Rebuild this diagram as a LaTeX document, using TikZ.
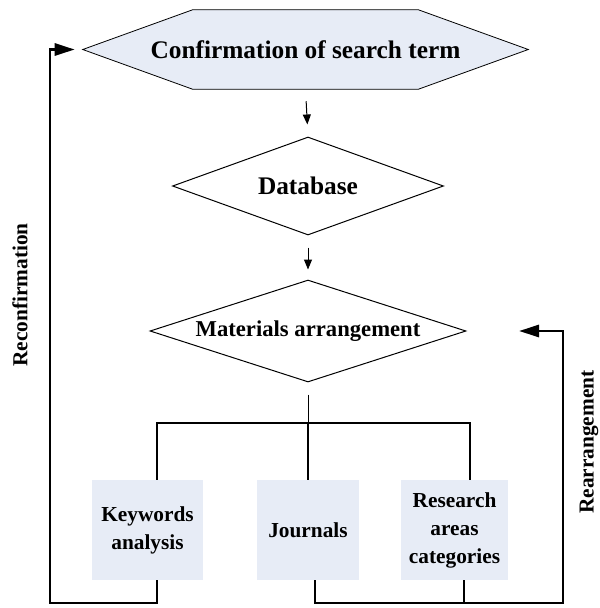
\documentclass[tikz,border=0pt]{standalone}
\usepackage{fontspec}
\setmainfont{Liberation Serif}
\usetikzlibrary{shapes.geometric,arrows.meta,backgrounds}
\definecolor{paleblue}{RGB}{231,236,246}
\tikzset{
  hexnode/.style={inner sep=0pt,minimum width=333.75pt,minimum height=59.25pt,
    font=\bfseries\fontsize{19}{22}\selectfont},
  decision/.style={diamond,draw,line width=0.75pt,inner sep=0pt,
    font=\bfseries\fontsize{19}{22}\selectfont},
  itembox/.style={fill=paleblue,inner sep=0pt,align=center,minimum height=75pt,
    font=\bfseries\fontsize{16}{21}\selectfont},
  sidelabel/.style={rotate=90,inner sep=0pt,font=\bfseries\fontsize{16}{19}\selectfont},
  flow/.style={line width=0.75pt,-{Triangle[length=7.5pt,width=6pt]}},
  feedback/.style={line width=2.2pt},
  feedback arrow/.style={feedback,-{Triangle[length=15pt,width=9pt]}}
}
\begin{document}
\begin{tikzpicture}[x=0.75pt,y=-0.75pt]
  \useasboundingbox (0,0) rectangle (600,608);
  \node[hexnode] (confirm) at (305.5,49.5) {Confirmation of search term};
  \begin{pgfonlayer}{background}
    \filldraw[fill=paleblue,line width=0.6pt] (confirm.west)
      -- ([xshift=82.5pt]confirm.north west) -- ([xshift=-82.5pt]confirm.north east)
      -- (confirm.east)
      -- ([xshift=-82.5pt]confirm.south east) -- ([xshift=82.5pt]confirm.south west)
      -- cycle;
  \end{pgfonlayer}
  \node[decision,aspect=2.77,minimum width=203.25pt,minimum height=73.5pt] (db) at (308,186) {Database};
  \node[decision,aspect=3.1,minimum width=237pt,minimum height=76.5pt,
    font=\bfseries\fontsize{17}{20}\selectfont] (mat) at (308,331) {Materials arrangement};
  \node[itembox,minimum width=83.25pt] (kw) at (147.5,530) {Keywords\\analysis};
  \node[itembox,minimum width=76.5pt] (jr) at (308,530) {Journals};
  \node[itembox,minimum width=80.25pt] (ra) at (454.5,530) {Research\\areas\\categories};
  \node[sidelabel] (reconf) at (20,295) {Reconfirmation};
  \node[sidelabel] (rearr) at (589,442) {Rearrangement};
  \coordinate (split) at (308,423);
  \coordinate (kwtop) at (157,423);
  \coordinate (ratop) at (470,423);
  \coordinate (kwbot) at (157,603);
  \coordinate (lbend) at (50,603);
  \coordinate (jrbot) at (315,603);
  \coordinate (rabot) at (464,603);
  \coordinate (rbend) at (563,603);
  \coordinate (rtip) at (519,331);
  \draw[flow,shorten <=9pt,shorten >=9pt] (confirm.south) -- (db.north);
  \draw[flow,shorten <=9pt,shorten >=7.5pt] (db.south) -- (mat.north);
  \draw[line width=0.75pt,shorten <=9pt] (mat.south) -- (split);
  \begin{scope}[feedback]
    \draw (kwtop |- kw.north) -- (kwtop) -- (ratop) -- (ratop |- ra.north);
    \draw (split) -- (jr.north);
    \draw (rabot |- ra.south) -- (rabot);
  \end{scope}
  \draw[feedback arrow,shorten >=6pt] (kwbot |- kw.south) -- (kwbot) -- (lbend) |- (confirm.west);
  \draw[feedback arrow] (jrbot |- jr.south) -- (jrbot) -- (rbend) |- (rtip);
\end{tikzpicture}
\end{document}
